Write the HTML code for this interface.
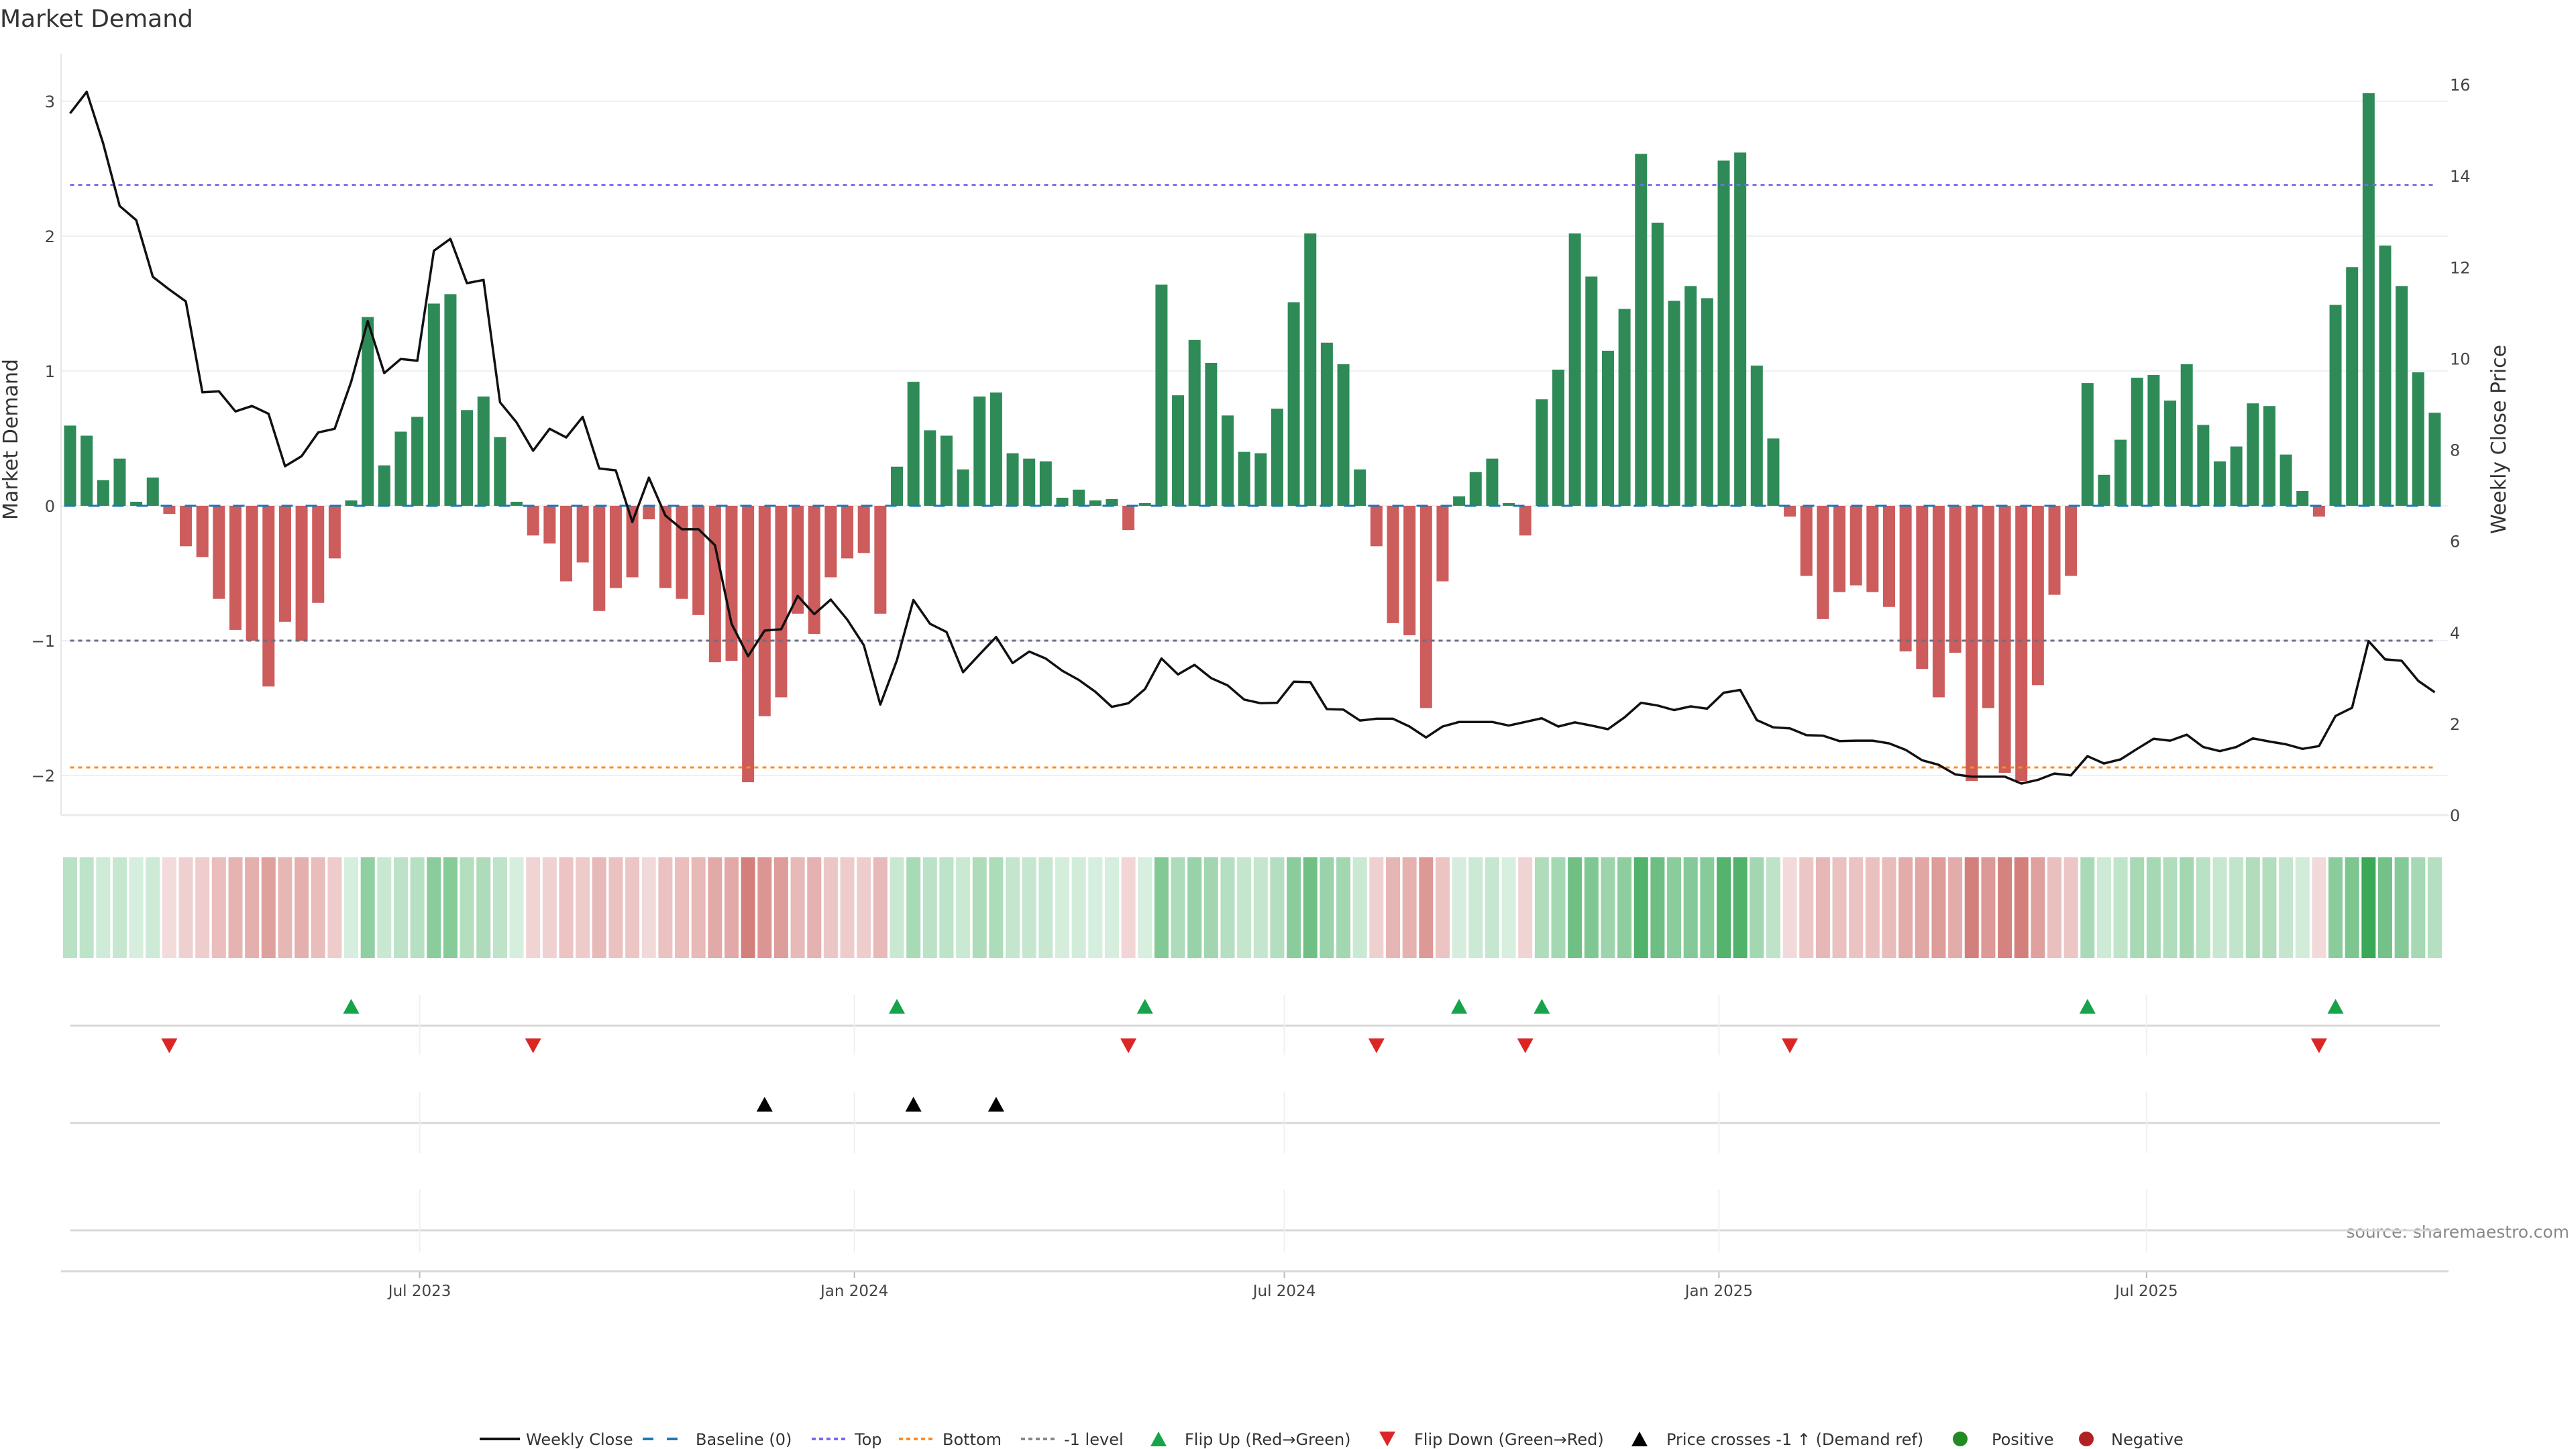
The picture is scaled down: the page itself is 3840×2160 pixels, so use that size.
<!DOCTYPE html>
<html><head><meta charset="utf-8"><title>Market Demand</title>
<style>
html,body{margin:0;padding:0;background:#fff;}
svg{display:block;font-family:"DejaVu Sans","Liberation Sans",sans-serif;}
</style></head>
<body>
<svg id="chart" xmlns="http://www.w3.org/2000/svg" width="3840" height="2160" viewBox="0 0 3840 2160">
<rect width="3840" height="2160" fill="#fff"/>
<text x="0" y="40" font-size="36" fill="#333">Market Demand</text>
<text transform="translate(26,655) rotate(-90)" text-anchor="middle" font-size="30" fill="#333">Market Demand</text>
<text transform="translate(3735,655) rotate(-90)" text-anchor="middle" font-size="30" fill="#333">Weekly Close Price</text>
<text x="3830" y="1845" text-anchor="end" font-size="25" fill="#888">source: sharemaestro.com</text>
<g id="g-grid"></g><g id="g-bars"></g><g id="g-lines"></g><g id="g-heat"></g><g id="g-marks"></g><g id="g-axes"></g><g id="g-legend"></g>
</svg>
<script>
const demand = [0.595,0.52,0.19,0.35,0.03,0.21,-0.06,-0.30,-0.38,-0.69,-0.92,-1.0,-1.34,-0.86,-1.0,-0.72,-0.39,0.04,1.40,0.30,0.55,0.66,1.50,1.57,0.71,0.81,0.51,0.03,-0.22,-0.28,-0.56,-0.42,-0.78,-0.61,-0.53,-0.10,-0.61,-0.69,-0.81,-1.16,-1.15,-2.05,-1.56,-1.42,-0.80,-0.95,-0.53,-0.39,-0.35,-0.80,
0.29,0.92,0.56,0.52,0.27,0.81,0.84,0.39,0.35,0.33,0.06,0.12,0.04,0.05,-0.18,0.02,1.64,0.82,1.23,1.06,0.67,0.40,0.39,0.72,1.51,2.02,1.21,1.05,0.27,-0.30,-0.87,-0.96,-1.50,-0.56,0.07,0.25,0.35,0.02,-0.22,0.79,1.01,2.02,1.70,1.15,1.46,2.61,2.10,1.52,1.63,1.54,2.56,2.62,
1.04,0.50,-0.08,-0.52,-0.84,-0.64,-0.59,-0.64,-0.75,-1.08,-1.21,-1.42,-1.09,-2.04,-1.50,-1.98,-2.04,-1.33,-0.66,-0.52,0.91,0.23,0.49,0.95,0.97,0.78,1.05,0.60,0.33,0.44,0.76,0.74,0.38,0.11,-0.08,1.49,1.77,3.06,1.93,1.63,0.99,0.69];
const price = [15.37,15.84,14.71,13.34,13.03,11.79,11.51,11.25,9.26,9.28,8.84,8.96,8.79,7.64,7.86,8.38,8.46,9.49,10.82,9.68,9.99,9.95,12.36,12.62,11.65,11.72,9.04,8.60,7.98,8.46,8.27,8.72,7.59,7.55,6.42,7.39,6.56,6.26,6.26,5.91,4.19,3.48,4.04,4.07,4.80,4.40,4.72,4.28,3.72,
2.42,3.39,4.71,4.19,4.01,3.13,3.52,3.90,3.33,3.58,3.43,3.16,2.96,2.70,2.37,2.45,2.76,3.43,3.08,3.29,3.00,2.84,2.53,2.45,2.46,2.92,2.91,2.32,2.31,2.07,2.11,2.11,1.94,1.70,1.94,2.04,2.04,2.04,1.96,2.04,2.12,1.94,2.03,1.96,1.88,2.14,2.46,2.40,2.30,2.38,2.33,2.68,2.74,
2.08,1.92,1.90,1.75,1.74,1.62,1.63,1.63,1.57,1.43,1.20,1.10,0.89,0.84,0.84,0.84,0.69,0.77,0.91,0.87,1.29,1.13,1.22,1.45,1.67,1.63,1.76,1.49,1.40,1.49,1.68,1.61,1.55,1.45,1.51,2.17,2.35,3.81,3.41,3.38,2.94,2.69];
const priceCrossIdx = [42, 51, 56];
const refLevels = [2.38, -1.94, -1];
const leftTicks = [-2, -1, 0, 1, 2, 3];
const rightTicks = [0, 2, 4, 6, 8, 10, 12, 14, 16];
const xTickLabels = ["Jul 2023", "Jan 2024", "Jul 2024", "Jan 2025", "Jul 2025"];
const xTickWeeks = [21.14, 47.43, 73.43, 99.71, 125.57];

const NS = "http://www.w3.org/2000/svg";
const X0 = 104.5, DX = 24.65, ZERO = 754, UNIT = 201, R0 = 1215, RUNIT = 68.06;
const xS = i => X0 + i * DX;
const yL = v => ZERO - v * UNIT;
const yR = p => R0 - p * RUNIT;
function mk(parent, tag, attrs) {
  const e = document.createElementNS(NS, tag);
  for (const k in attrs) e.setAttribute(k, attrs[k]);
  document.getElementById(parent).appendChild(e);
  return e;
}
const N = demand.length;
const xEnd = xS(N - 1);

// grid
leftTicks.forEach(t => {
  const g = mk("g-grid", "line", {x1: 91, x2: 3650, y1: yL(t), y2: yL(t), stroke: "#eef0f4", "stroke-width": 2});
  
  
  const l = mk("g-axes", "text", {x: 82, y: yL(t) + 9, "text-anchor": "end", "font-size": 24, fill: "#444"});
  l.textContent = t < 0 ? "\u2212" + Math.abs(t) : String(t);
  
  
});
rightTicks.forEach(t => {
  const l = mk("g-axes", "text", {x: 3652, y: yR(t) + 9, "font-size": 24, fill: "#444"});
  l.textContent = String(t);
  
  
});
let ax = mk("g-axes", "line", {x1: 91, x2: 91, y1: 80, y2: 1215, stroke: "#e4e6ea", "stroke-width": 2});


ax = mk("g-axes", "line", {x1: 91, x2: 3650, y1: 1215, y2: 1215, stroke: "#e8eaee", "stroke-width": 3});



// bars
demand.forEach((v, i) => {
  const y0 = yL(0), y1 = yL(v);
  const b = mk("g-bars", "rect", {x: xS(i) - 9, y: Math.min(y0, y1), width: 18, height: Math.max(1, Math.abs(y1 - y0)), fill: v >= 0 ? "#2e8b57" : "#cd5c5c"});
  
  
});

// reference lines
const refColors = ["#7b68ee", "#ff8c1a", "#6e6e80"];
const refNames = ["top-line", "bottom-line", "minus-one-line"];
refLevels.forEach((v, k) => {
  const r = mk("g-lines", "line", {x1: X0, x2: xEnd, y1: yL(v), y2: yL(v), stroke: refColors[k], "stroke-width": 3, "stroke-dasharray": "6,6"});
  
  
});
const bl = mk("g-lines", "line", {x1: X0 - 9, x2: xEnd + 9, y1: yL(0), y2: yL(0), stroke: "#1f77b4", "stroke-width": 3, "stroke-dasharray": "17,19"});



// price line
const pts = price.map((p, i) => xS(i).toFixed(1) + "," + yR(p).toFixed(1)).join(" ");
const pl = mk("g-lines", "polyline", {points: pts, fill: "none", stroke: "#111", "stroke-width": 3.5, "stroke-linejoin": "round"});



// heatmap
function mix(a, b, t) { return "rgb(" + a.map((c, j) => Math.round(c + (b[j] - c) * t)).join(",") + ")"; }
demand.forEach((v, i) => {
  const col = v >= 0 ? mix([216, 239, 223], [58, 168, 87], Math.min(v / 3.06, 1))
                     : mix([244, 222, 222], [211, 128, 124], Math.min(-v / 2.05, 1));
  const c = mk("g-heat", "rect", {x: xS(i) - 10.5, y: 1278, width: 21, height: 150, fill: col});
  
  
});

// marker panels
[1529, 1674, 1834].forEach((y, k) => {
  const l = mk("g-marks", "line", {x1: X0, x2: xEnd + 8, y1: y, y2: y, stroke: "#d8d8d8", "stroke-width": 3});
  
  
});
const panelSpans = [[1483, 1573], [1628, 1719], [1773, 1867]];
xTickWeeks.forEach((w, k) => {
  const x = xS(w);
  panelSpans.forEach(s => {
    const v = mk("g-marks", "line", {x1: x, x2: x, y1: s[0], y2: s[1], stroke: "#f0f0f2", "stroke-width": 2});
    
    
  });
  const t = mk("g-axes", "line", {x1: x, x2: x, y1: 1895, y2: 1905, stroke: "#bbb", "stroke-width": 2});
  
  
  const lab = mk("g-axes", "text", {x: x, y: 1932, "text-anchor": "middle", "font-size": 23, fill: "#444"});
  lab.textContent = xTickLabels[k];
  
  
});
ax = mk("g-axes", "line", {x1: 91, x2: 3650, y1: 1895, y2: 1895, stroke: "#d8d8d8", "stroke-width": 3});



function tri(parent, cx, cy, up, fill) {
  const h = 11;
  const p = up ? `${cx - 12},${cy + h} ${cx + 12},${cy + h} ${cx},${cy - h}` : `${cx - 12},${cy - h} ${cx + 12},${cy - h} ${cx},${cy + h}`;
  return mk(parent, "polygon", {points: p, fill: fill});
}
for (let i = 1; i < N; i++) {
  if (demand[i - 1] < 0 && demand[i] >= 0) {
    const m = tri("g-marks", xS(i), 1500, true, "#16a34a");
    
    
  } else if (demand[i - 1] >= 0 && demand[i] < 0) {
    const m = tri("g-marks", xS(i), 1559, false, "#dc2626");
    
    
  }
}
priceCrossIdx.forEach(i => {
  const m = tri("g-marks", xS(i), 1646, true, "#000");
  
  
});

// legend
const LY = 2145;
function ltext(x, s) {
  const t = mk("g-legend", "text", {x: x, y: LY + 9, "font-size": 24, fill: "#333"});
  t.textContent = s;
  
  
}
let e;
e = mk("g-legend", "line", {x1: 715, x2: 775, y1: LY, y2: LY, stroke: "#111", "stroke-width": 4});
 
ltext(784, "Weekly Close");
e = mk("g-legend", "line", {x1: 958, x2: 1028, y1: LY, y2: LY, stroke: "#1f77b4", "stroke-width": 4, "stroke-dasharray": "16,20"});
 
ltext(1037, "Baseline (0)");
e = mk("g-legend", "line", {x1: 1210, x2: 1262, y1: LY, y2: LY, stroke: "#7b68ee", "stroke-width": 4, "stroke-dasharray": "6,5"});
 
ltext(1274, "Top");
e = mk("g-legend", "line", {x1: 1340, x2: 1393, y1: LY, y2: LY, stroke: "#ff8c1a", "stroke-width": 4, "stroke-dasharray": "6,5"});
 
ltext(1405, "Bottom");
e = mk("g-legend", "line", {x1: 1522, x2: 1575, y1: LY, y2: LY, stroke: "#888", "stroke-width": 4, "stroke-dasharray": "6,5"});
 
ltext(1586, "-1 level");
e = tri("g-legend", 1727, LY, true, "#16a34a");
 
ltext(1766, "Flip Up (Red\u2192Green)");
e = tri("g-legend", 2068, LY, false, "#dc2626");
 
ltext(2108, "Flip Down (Green\u2192Red)");
e = tri("g-legend", 2444, LY, true, "#000");
 
ltext(2484, "Price crosses -1 \u2191 (Demand ref)");
e = mk("g-legend", "circle", {cx: 2922, cy: LY, r: 11, fill: "#228b22"});
 
ltext(2969, "Positive");
e = mk("g-legend", "circle", {cx: 3110, cy: LY, r: 11, fill: "#b22222"});
 
ltext(3147, "Negative");
</script>
</body></html>
